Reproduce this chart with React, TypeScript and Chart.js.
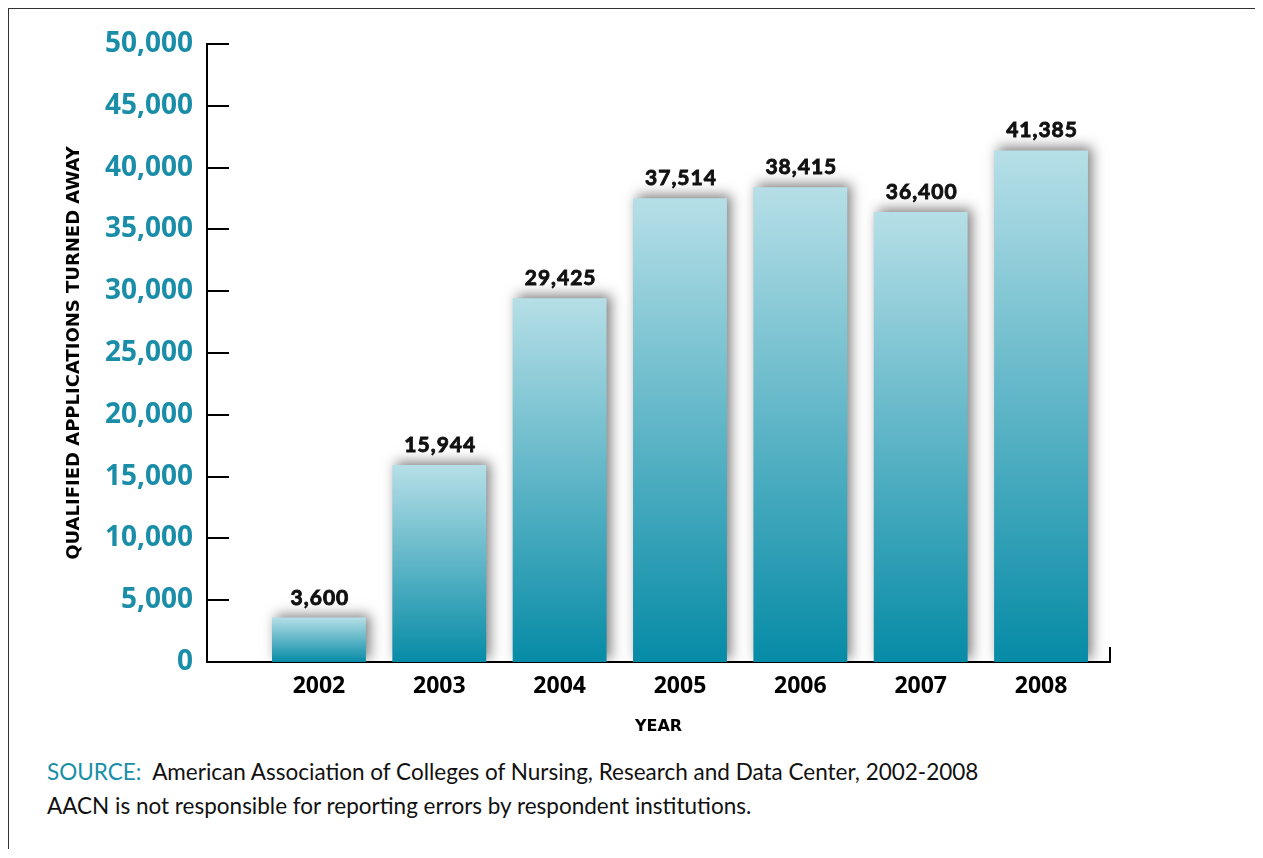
import React, { useEffect, useRef } from 'react';
import { Chart, registerables } from 'chart.js';

Chart.register(...registerables);

const years = ['2002', '2003', '2004', '2005', '2006', '2007', '2008'];
const applicationsTurnedAway = [3600, 15944, 29425, 37514, 38415, 36400, 41385];
const yTickValues = [0, 5000, 10000, 15000, 20000, 25000, 30000, 35000, 40000, 45000, 50000];

const TEAL = '#1a8ea8';
const GRAD_TOP = '#b6dfe7';
const GRAD_BOTTOM = '#068ba6';

const fmt = (v: number) => v.toLocaleString('en-US');

const decorPlugin = {
  id: 'decor',
  beforeDatasetsDraw(chart: any) {
    const ctx = chart.ctx;
    ctx.save();
    ctx.shadowColor = 'rgba(0,0,0,0.5)';
    ctx.shadowBlur = 12;
    ctx.shadowOffsetX = 4;
    ctx.shadowOffsetY = -3;
  },
  afterDatasetsDraw(chart: any) {
    const ctx = chart.ctx;
    ctx.restore();
    const meta = chart.getDatasetMeta(0);
    ctx.save();
    ctx.fillStyle = '#111';
    ctx.strokeStyle = '#111';
    ctx.lineWidth = 0.9;
    ctx.font = 'bold 21px Lato';
    (ctx as any).letterSpacing = '1px';
    ctx.textAlign = 'center';
    ctx.textBaseline = 'alphabetic';
    meta.data.forEach((bar: any, i: number) => {
      const label = fmt(applicationsTurnedAway[i]);
      ctx.fillText(label, bar.x + 1, bar.y - 13);
      ctx.strokeText(label, bar.x + 1, bar.y - 13);
    });
    ctx.restore();
  },
  afterDraw(chart: any) {
    const ctx = chart.ctx;
    const { chartArea, scales } = chart;
    ctx.save();
    ctx.strokeStyle = '#000';
    ctx.lineWidth = 2;
    ctx.beginPath();
    scales.y.ticks.forEach((t: any) => {
      const py = Math.round(scales.y.getPixelForValue(t.value));
      ctx.moveTo(chartArea.left, py);
      ctx.lineTo(chartArea.left + 22, py);
    });
    ctx.moveTo(chartArea.right, chartArea.bottom + 1);
    ctx.lineTo(chartArea.right, chartArea.bottom - 15);
    ctx.stroke();
    ctx.restore();
  },
};

export default function App() {
  const canvasRef = useRef<HTMLCanvasElement | null>(null);

  useEffect(() => {
    const canvas = canvasRef.current;
    if (!canvas) return;
    const chart = new Chart(canvas, {
      type: 'bar',
      data: {
        datasets: [
          {
            label: 'Qualified applications turned away',
            data: applicationsTurnedAway.map((v, i) => ({ x: i, y: v })),
            barPercentage: 0.78,
            categoryPercentage: 1,
            borderWidth: 0,
            backgroundColor: (c: any) => {
              const chart = c.chart;
              const { chartArea, scales } = chart;
              if (!chartArea || !c.raw) return GRAD_BOTTOM;
              const top = scales.y.getPixelForValue(c.raw.y);
              const bottom = scales.y.getPixelForValue(0);
              const g = chart.ctx.createLinearGradient(0, top, 0, bottom);
              g.addColorStop(0, GRAD_TOP);
              g.addColorStop(1, GRAD_BOTTOM);
              return g;
            },
          },
        ],
      },
      options: {
        responsive: false,
        animation: false,
        layout: { padding: { top: 35, right: 145, bottom: 0, left: 0 } },
        plugins: {
          legend: { display: false },
          tooltip: { enabled: false },
        },
        scales: {
          x: {
            type: 'linear',
            min: -0.93,
            max: 6.573,
            offset: false,
            z: 1,
            grid: { display: false, offset: false },
            border: { display: true, color: '#000', width: 2 },
            afterBuildTicks: (s: any) => {
              s.ticks = years.map((_, i) => ({ value: i }));
            },
            afterFit: (s: any) => {
              s.height = 92;
            },
            ticks: {
              autoSkip: false,
              maxRotation: 0,
              padding: 3,
              color: '#000',
              font: { family: 'Open Sans', weight: 'bold', size: 23 },
              callback: (v: any) => years[v] ?? '',
            },
            title: {
              display: true,
              text: 'YEAR',
              color: '#000',
              font: { family: 'DejaVu Sans', weight: 'bold', size: 16 },
              padding: { top: 0, bottom: 18 },
            },
          },
          y: {
            min: 0,
            max: 50000,
            z: 1,
            grid: { display: false },
            border: { display: true, color: '#000', width: 2 },
            afterBuildTicks: (s: any) => {
              s.ticks = yTickValues.map((v) => ({ value: v }));
            },
            afterFit: (s: any) => {
              s.width = 198;
            },
            ticks: {
              padding: 6,
              color: TEAL,
              font: { family: 'Open Sans', weight: 'bold', size: 28 },
              callback: (v: any) => fmt(Number(v)),
            },
            title: {
              display: true,
              text: 'QUALIFIED APPLICATIONS TURNED AWAY',
              color: '#000',
              font: { family: 'DejaVu Sans', weight: 'bold', size: 18 },
              padding: { top: 55, bottom: 0 },
            },
          },
        },
      },
      plugins: [decorPlugin],
    });
    return () => chart.destroy();
  }, []);

  return (
    <div
      style={{
        position: 'relative',
        borderTop: '1px solid #333',
        borderLeft: '1px solid #333',
        height: 840,
        marginRight: -8,
      }}
    >
      <canvas ref={canvasRef} width={1246} height={745} style={{ display: 'block' }} />
      <div
        style={{
          position: 'absolute',
          left: 38,
          top: 746,
          fontFamily: 'Lato',
          fontSize: 22.5,
          lineHeight: '34px',
          color: '#111',
          whiteSpace: 'nowrap',
        }}
      >
        <div>
          <span style={{ color: TEAL }}>SOURCE:</span>
          {'\u00a0 American Association of Colleges of Nursing, Research and Data Center, 2002-2008'}
        </div>
        <div>AACN is not responsible for reporting errors by respondent institutions.</div>
      </div>
    </div>
  );
}
